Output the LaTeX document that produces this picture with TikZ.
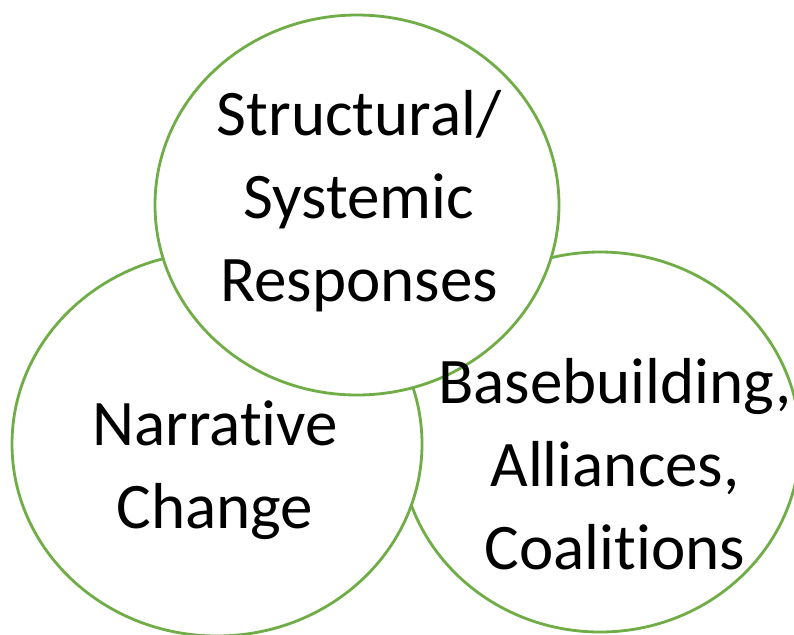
\documentclass[tikz,border=0pt]{standalone}
\usepackage{fontspec}
\setmainfont{Carlito}[RawFeature=-liga]
\usepackage{tikz}

\definecolor{ringgreen}{HTML}{70AD47}

\begin{document}
\begin{tikzpicture}[
    ring/.style={draw=ringgreen, line width=0.8pt, fill=white},
    lbl/.style={align=center, font=\fontsize{18.5}{23.6}\selectfont}
    ]

    \useasboundingbox (0,0) rectangle (7.94,6.34);
    \clip (0,0) rectangle (7.94,6.34);

    % back to front
    \draw[ring] (6.00,1.92) ellipse [x radius=2.00, y radius=1.90];
    \draw[ring] (2.17,1.90) ellipse [x radius=2.05, y radius=1.92];
    \draw[ring] (3.57,4.29) ellipse [x radius=2.02, y radius=1.90];

    \node[lbl] (structural) at (3.59,4.33) {Structural/\\Systemic\\Responses};
    \node[lbl] (narrative) at (2.15,1.64) {Narrative\\Change};
    \node[lbl] (basebuilding) at (6.15,1.70) {Basebuilding,\\Alliances,\\Coalitions};

\end{tikzpicture}
\end{document}
